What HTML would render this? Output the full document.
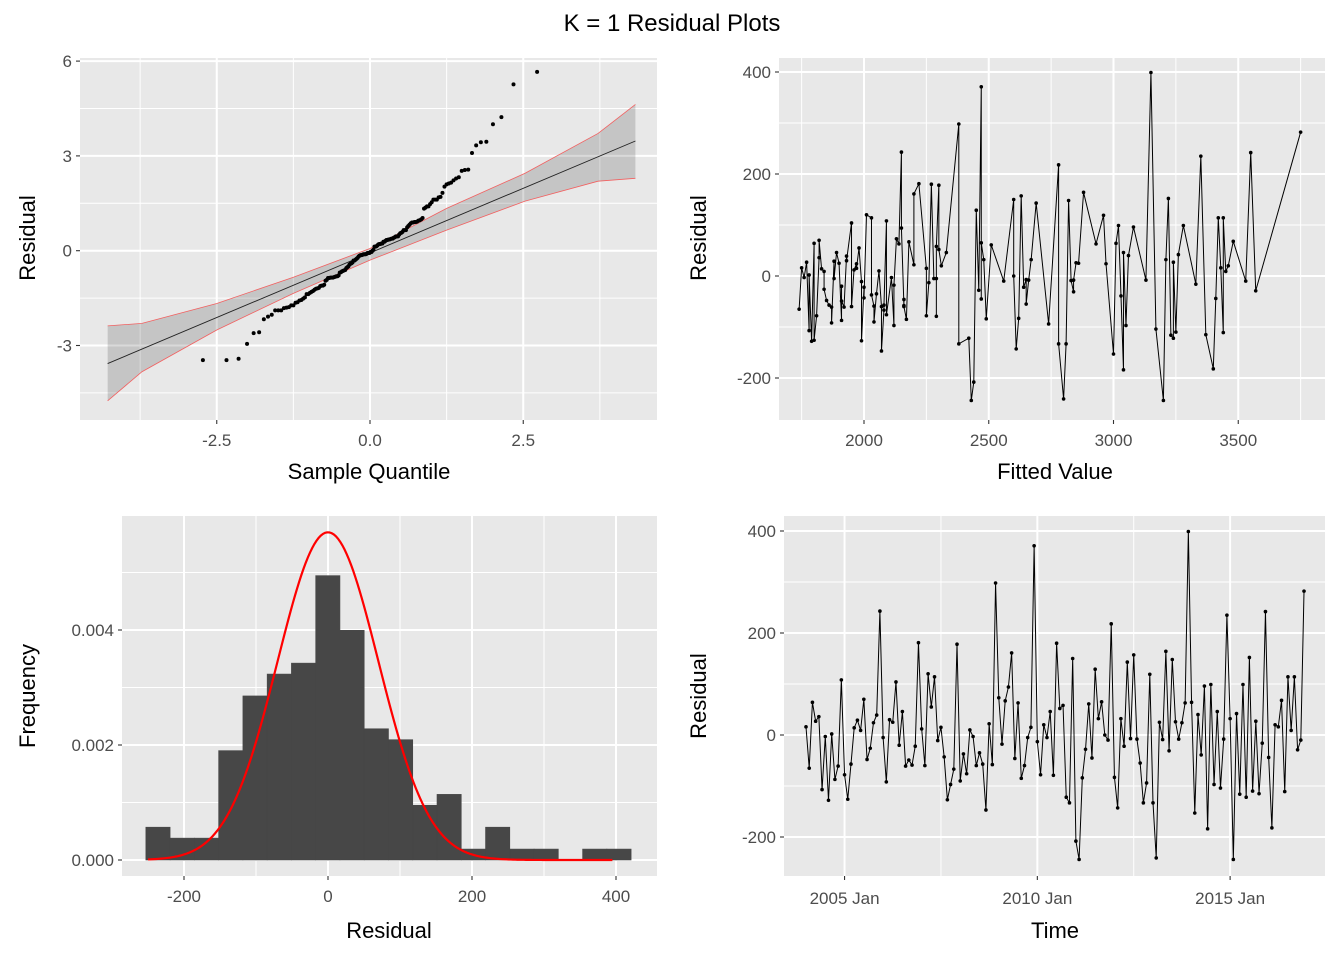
<!DOCTYPE html>
<html><head><meta charset="utf-8"><style>
html,body{margin:0;padding:0;background:#fff;}
svg{display:block;font-family:"Liberation Sans",Arial,sans-serif;}
</style></head><body>
<svg id="chart" width="1344" height="960" xmlns="http://www.w3.org/2000/svg">
<text x="672" y="31" font-size="24" text-anchor="middle" fill="#000">K = 1 Residual Plots</text>
<g id="p1"></g>
<g id="p2"></g>
<g id="p3"></g>
<g id="p4"></g>
</svg>
<script>
// ===== Data =====
const residuals = [16,-65,64,27,36,-107,-3,-128,2,-87,-61,108,-78,-126,-57,14,29,9,70,-48,-26,24,39,243,-5,-92,30,25,104,-20,46,-61,-49,-59,-22,181,12,-60,120,
55,114,-11,15,-43,-127,-97,-67,178,-90,-37,-76,10,-3,-60,-35,-57,-147,22,-58,298,73,-18,67,94,161,-46,63,-85,-60,-5,15,371,-13,-78,20,-5,46,-79,
180,52,58,-122,-133,150,-208,-244,-84,-28,61,-45,129,32,65,0,-10,218,-83,-143,32,-22,143,-7,157,-8,-55,-133,-94,119,-133,-241,25,-9,164,-31,148,26,-8,
24,63,399,64,-153,40,-39,96,-184,99,-97,46,-104,-8,235,32,-244,42,-116,99,-122,152,-110,27,-115,-16,242,-44,-182,20,16,68,-111,114,9,114,-29,-10,282];
const yearLevels = [1790,1850,1920,2000,2080,2170,2300,2480,2660,2850,3050,3250,3450];
const monthEffects = [-40,-50,10,-20,30,-10,-30,0,-10,120,80,300];
const timeTickLabels = ["2005 Jan","2010 Jan","2015 Jan"];
const timeTickMonths = [12,72,132];
const histStart = -253;
const histWidth = 33.7;
const histCounts = [3,2,2,10,15,17,18,26,21,12,11,5,6,1,3,1,1,0,1,1];
const normalParams = [0,70];
const qqScale = 70.5;
const qqBandX = [-4.28,-3.72,-2.5,-1.25,0,1.25,2.53,3.72,4.33];
const qqBandLower = [-4.75,-3.83,-2.51,-1.35,-0.30,0.65,1.57,2.20,2.29];
const qqBandUpper = [-2.38,-2.30,-1.67,-0.84,0.07,1.34,2.45,3.71,4.63];
const qqLine = [-0.07,0.818];
const qqTicksX = [-2.5,0,2.5]; const qqTickLabelsX = ["-2.5","0.0","2.5"];
const qqTicksY = [6,3,0,-3]; const qqTickLabelsY = ["6","3","0","-3"];
const fitTicksX = [2000,2500,3000,3500];
const resTicksY = [400,200,0,-200];
const histTicksX = [-200,0,200,400];
const histTicksY = [0,0.002,0.004]; const histTickLabelsY = ["0.000","0.002","0.004"];

const fitted = residuals.map((r,i)=>yearLevels[Math.floor(i/12)]+monthEffects[i%12]);

const NS="http://www.w3.org/2000/svg";
function mk(parent,tag,attrs){const e=document.createElementNS(NS,tag);for(const k in attrs)e.setAttribute(k,attrs[k]);parent.appendChild(e);return e;}
function txt(parent,x,y,s,size,anchor,fill,rot){const t=mk(parent,'text',{x:x,y:y,'font-size':size,'text-anchor':anchor,fill:fill});if(rot)t.setAttribute('transform','rotate(-90 '+x+' '+y+')');t.textContent=s;return t;}

function panel(g,L,T,R,B,xs,ys,majX,minX,majY,minY){
  const bg=mk(g,'rect',{x:L,y:T,width:R-L,height:B-T,fill:'#e8e8e8'});
  
  
  minX.forEach(v=>{const p=xs(v);if(p>L&&p<R)mk(g,'line',{x1:p,x2:p,y1:T,y2:B,stroke:'#fff','stroke-width':1});});
  minY.forEach(v=>{const p=ys(v);if(p>T&&p<B)mk(g,'line',{x1:L,x2:R,y1:p,y2:p,stroke:'#fff','stroke-width':1});});
  majX.forEach(v=>{const p=xs(v);mk(g,'line',{x1:p,x2:p,y1:T,y2:B,stroke:'#fff','stroke-width':2});mk(g,'line',{x1:p,x2:p,y1:B,y2:B+4,stroke:'#333','stroke-width':1.1});});
  majY.forEach(v=>{const p=ys(v);mk(g,'line',{x1:L,x2:R,y1:p,y2:p,stroke:'#fff','stroke-width':2});mk(g,'line',{x1:L-4,x2:L,y1:p,y2:p,stroke:'#333','stroke-width':1.1});});
}
function clip(id,L,T,R,B){const d=mk(document.getElementById('chart'),'clipPath',{id:id});mk(d,'rect',{x:L,y:T,width:R-L,height:B-T});}

function qnorm(p){const a=[-39.69683028665376,220.9460984245205,-275.9285104469687,138.3577518672690,-30.66479806614716,2.506628277459239],
b=[-54.47609879822406,161.5858368580409,-155.6989798598866,66.80131188771972,-13.28068155211318],
c=[-0.007784894002430293,-0.3223964580411365,-2.400758277161838,-2.549732539343734,4.374664141464968,2.938163982698783],
d=[0.007784695709041462,0.3224671290700398,2.445134137142996,3.754408661907416];
const pl=0.02425;let q,r;
if(p<pl){q=Math.sqrt(-2*Math.log(p));return(((((c[0]*q+c[1])*q+c[2])*q+c[3])*q+c[4])*q+c[5])/((((d[0]*q+d[1])*q+d[2])*q+d[3])*q+1);}
if(p>1-pl){q=Math.sqrt(-2*Math.log(1-p));return-(((((c[0]*q+c[1])*q+c[2])*q+c[3])*q+c[4])*q+c[5])/((((d[0]*q+d[1])*q+d[2])*q+d[3])*q+1);}
q=p-0.5;r=q*q;return(((((a[0]*r+a[1])*r+a[2])*r+a[3])*r+a[4])*r+a[5])*q/(((((b[0]*r+b[1])*r+b[2])*r+b[3])*r+b[4])*r+1);}

const TICK='#4d4d4d';

// ===== Panel 1: QQ =====
(function(){
  const g=document.getElementById('p1');const L=80,T=58,R=657,B=420;
  const xs=v=>370+v*61.3, ys=v=>250.7-v*31.6;
  clip('c1',L,T,R,B);
  panel(g,L,T,R,B,xs,ys,qqTicksX,[-3.75,-1.25,1.25,3.75],qqTicksY,[4.5,1.5,-1.5,-4.5]);
  const cg=mk(g,'g',{'clip-path':'url(#c1)'});
  let d='';qqBandX.forEach((x,i)=>{d+=(i?'L':'M')+xs(x)+','+ys(qqBandUpper[i]);});
  for(let i=qqBandX.length-1;i>=0;i--)d+='L'+xs(qqBandX[i])+','+ys(qqBandLower[i]);
  const band=mk(cg,'path',{d:d+'Z',fill:'#000','fill-opacity':0.15});
  
  
  ['Upper','Lower'].forEach(k=>{const arr=k==='Upper'?qqBandUpper:qqBandLower;
    const e=mk(cg,'polyline',{points:qqBandX.map((x,i)=>xs(x)+','+ys(arr[i])).join(' '),fill:'none',stroke:'#f26060','stroke-width':0.8});
    
    });
  const x0=qqBandX[0],x1=qqBandX[qqBandX.length-1];
  const ln=mk(cg,'line',{x1:xs(x0),y1:ys(qqLine[0]+qqLine[1]*x0),x2:xs(x1),y2:ys(qqLine[0]+qqLine[1]*x1),stroke:'#222','stroke-width':0.9});
  
  
  const n=residuals.length;
  const sorted=residuals.slice().sort((a,b)=>a-b);
  sorted.forEach((v,i)=>{const c=mk(cg,'circle',{cx:xs(qnorm((i+0.5)/n)),cy:ys(v/qqScale),r:2,fill:'#000'});
    
    });
  qqTicksX.forEach((v,i)=>txt(g,xs(v),B+26,qqTickLabelsX[i],17,'middle',TICK));
  qqTicksY.forEach((v,i)=>txt(g,L-8,ys(v)+6,qqTickLabelsY[i],17,'end',TICK));
  const xt=txt(g,369,479,'Sample Quantile',22,'middle','#000');
  
  
  const yt=txt(g,35,238,'Residual',22,'middle','#000',true);
  
  
})();

// ===== Panel 2: residual vs fitted =====
(function(){
  const g=document.getElementById('p2');const L=779,T=58,R=1325,B=420;
  const xs=v=>864+(v-2000)*0.2495, ys=v=>276-v*0.51;
  panel(g,L,T,R,B,xs,ys,fitTicksX,[1750,2250,2750,3250,3750],resTicksY,[300,100,-100,-300]);
  const idx=residuals.map((r,i)=>i).sort((a,b)=>fitted[a]-fitted[b]);
  const pl=mk(g,'polyline',{points:idx.map(i=>xs(fitted[i])+','+ys(residuals[i])).join(' '),fill:'none',stroke:'#000','stroke-width':1});
  
  
  idx.forEach(i=>{const c=mk(g,'circle',{cx:xs(fitted[i]),cy:ys(residuals[i]),r:1.8,fill:'#000'});
    
    });
  fitTicksX.forEach(v=>txt(g,xs(v),B+26,String(v),17,'middle',TICK));
  resTicksY.forEach(v=>txt(g,L-8,ys(v)+6,String(v),17,'end',TICK));
  const xt=txt(g,1055,479,'Fitted Value',22,'middle','#000');
  
  
  const yt=txt(g,706,238,'Residual',22,'middle','#000',true);
  
  
})();

// ===== Panel 3: histogram =====
(function(){
  const g=document.getElementById('p3');const L=122,T=516,R=657,B=876;
  const xs=v=>328+v*0.72, ys=v=>860-v*57500;
  panel(g,L,T,R,B,xs,ys,histTicksX,[-100,100,300],histTicksY,[0.001,0.003,0.005]);
  const n=histCounts.reduce((a,b)=>a+b,0);
  histCounts.forEach((c,i)=>{if(!c)return;const d=c/(n*histWidth);const x0=xs(histStart+i*histWidth),x1=xs(histStart+(i+1)*histWidth);
    const r=mk(g,'rect',{x:x0,y:ys(d),width:x1-x0,height:ys(0)-ys(d),fill:'#474747',stroke:'#474747','stroke-width':0.6});
    
    });
  const pts=[];for(let v=-250;v<=395;v+=3){const z=(v-normalParams[0])/normalParams[1];pts.push(xs(v)+','+ys(Math.exp(-z*z/2)/(normalParams[1]*Math.sqrt(2*Math.PI))));}
  const cv=mk(g,'polyline',{points:pts.join(' '),fill:'none',stroke:'#ff0000','stroke-width':2.2});
  
  
  histTicksX.forEach(v=>txt(g,xs(v),B+26,String(v),17,'middle',TICK));
  histTicksY.forEach((v,i)=>txt(g,L-8,ys(v)+6,histTickLabelsY[i],17,'end',TICK));
  const xt=txt(g,389,938,'Residual',22,'middle','#000');
  
  
  const yt=txt(g,35,696,'Frequency',22,'middle','#000',true);
  
  
})();

// ===== Panel 4: residual vs time =====
(function(){
  const g=document.getElementById('p4');const L=784,T=516,R=1325,B=876;
  const xs=m=>806+m*3.213, ys=v=>735-v*0.51;
  panel(g,L,T,R,B,xs,ys,timeTickMonths,[-18,42,102,162],resTicksY,[300,100,-100,-300]);
  const pl=mk(g,'polyline',{points:residuals.map((r,i)=>xs(i)+','+ys(r)).join(' '),fill:'none',stroke:'#000','stroke-width':1});
  
  
  residuals.forEach((r,i)=>{const c=mk(g,'circle',{cx:xs(i),cy:ys(r),r:1.8,fill:'#000'});
    
    });
  timeTickMonths.forEach((m,i)=>txt(g,xs(m),B+28,timeTickLabels[i],17,'middle',TICK));
  resTicksY.forEach(v=>txt(g,L-8,ys(v)+6,String(v),17,'end',TICK));
  const xt=txt(g,1055,938,'Time',22,'middle','#000');
  
  
  const yt=txt(g,706,696,'Residual',22,'middle','#000',true);
  
  
})();
</script>
</body></html>
